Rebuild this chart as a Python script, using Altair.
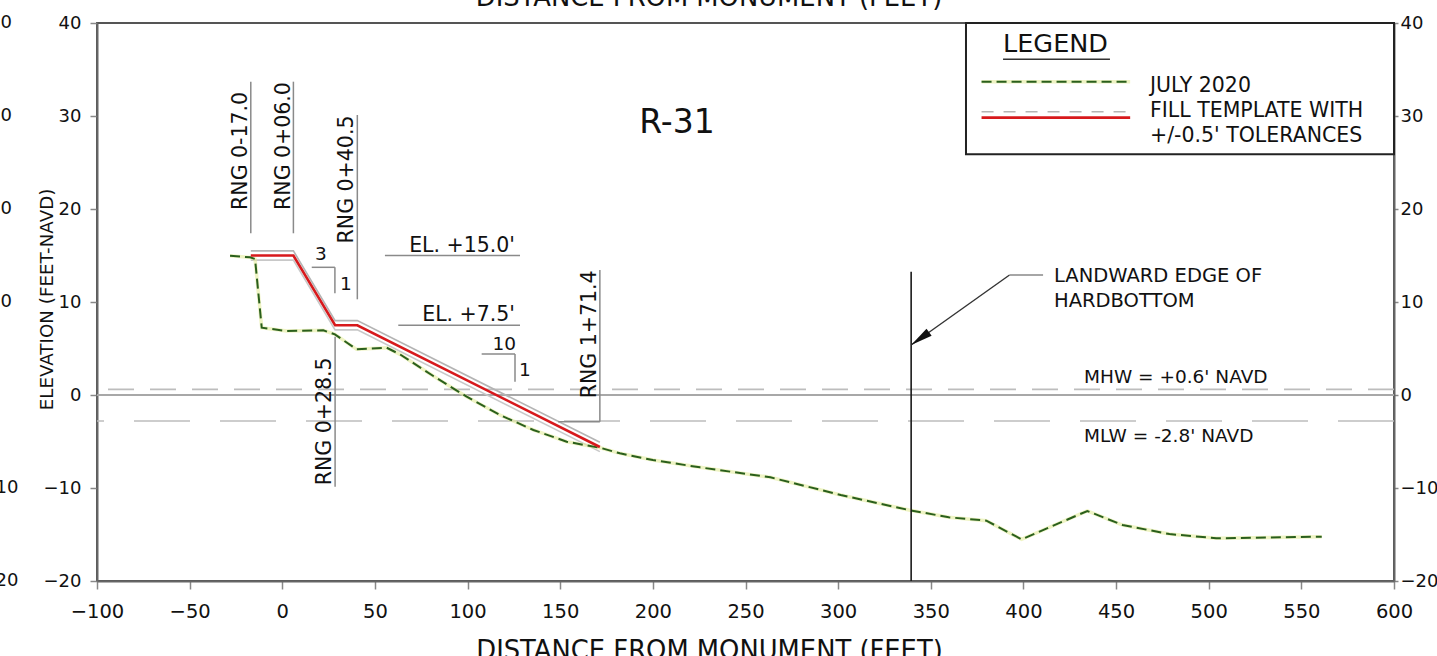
import altair as alt
import pandas as pd

FONT = "DejaVu Sans"
INK = "#111111"

# ---------------- data ----------------
x_ticks = [-100, -50, 0, 50, 100, 150, 200, 250, 300, 350, 400, 450, 500, 550, 600]
y_ticks = [-20, -10, 0, 10, 20, 30, 40]

# JULY 2020 survey profile
profile_x = [-28.2, -17.4, -14.7, -11.1, 2.4, 22.1, 28.4, 40.1, 56.3, 63.5, 81.5, 99.5,
             117.5, 135.5, 153.5, 172.0, 182.2, 200.0, 225.4, 263.4, 301.4, 338.2, 359.7,
             380.0, 399.0, 434.5, 453.5, 478.8, 504.1, 561.0]
profile_y = [14.98, 14.80, 14.62, 7.24, 6.88, 6.95, 6.52, 4.91, 5.09, 4.37, 2.04, -0.18,
             -2.15, -3.76, -5.02, -5.70, -6.27, -6.99, -7.78, -8.85, -10.75, -12.37, -13.15,
             -13.51, -15.52, -12.47, -13.98, -14.95, -15.41, -15.23]

# Fill template
template_x = [-17.0, 6.0, 28.5, 40.5, 171.4]
template_y = [15.0, 15.0, 7.5, 7.5, -5.59]
tolerance = 0.5

mhw_elev = 0.6
mlw_elev = -2.8

# Range (station) markers
rng_labels = ["RNG 0-17.0", "RNG 0+06.0", "RNG 0+40.5", "RNG 0+28.5", "RNG 1+71.4"]
rng_x = [-17.0, 6.0, 40.5, 28.5, 171.4]
rng_top = [33.69, 33.69, 30.11, 6.27, 13.44]
rng_bottom = [17.39, 17.39, 10.29, -9.86, -2.87]
rng_label_y = [19.9, 19.9, 16.3, -9.7, -0.35]
rng_foot_x = [148.9]
rng_foot_end = [171.4]
rng_foot_y = [-2.87]

# Elevation call-outs
el_labels = ["EL. +15.0'", "EL. +7.5'"]
el_elev = [15.0, 7.5]
el_start = [55.4, 62.6]
el_end = [128.3, 128.3]
el_label_x = [125.6, 125.6]

# Slope triangles (3:1 and 10:1)
slope_run_labels = ["3", "10"]
slope_rise_labels = ["1", "1"]
slope_start_x = [15.9, 107.6]
slope_corner_x = [28.4, 125.6]
slope_corner_y = [13.73, 4.41]
slope_end_y = [10.94, 1.43]
slope_run_label_x = [20.8, 119.8]
slope_run_label_y = [14.52, 4.84]
slope_rise_label_x = [34.3, 131.0]
slope_rise_label_y = [11.29, 2.04]

# Landward edge of hardbottom
hardbottom_x = [339.4]
hardbottom_top = [13.26]
arrow_tail_x = [392.5]
arrow_tail_y = [12.9]
arrow_tip_x = [339.4]
arrow_tip_y = [5.38]
leader_end_x = [410.6]
hardbottom_text = ["LANDWARD EDGE OF", "HARDBOTTOM"]
hardbottom_text_x = [416.5, 416.5]
hardbottom_text_y = [12.18, 9.5]

tide_text = ["MHW = +0.6' NAVD", "MLW = -2.8' NAVD"]
tide_text_x = [432.7, 432.7]
tide_text_y = [1.26, -5.0]

profile_name = ["R-31"]
profile_name_x = [213.0]
profile_name_y = [28.17]

# Legend
legend_box_x = [369.0]
legend_box_x2 = [600.0]
legend_box_y = [25.9]
legend_box_y2 = [40.0]
legend_heading = ["LEGEND"]
legend_heading_x = [389.0]
legend_heading_y = [36.91]
legend_underline_x = [389.0]
legend_underline_x2 = [446.7]
legend_underline_y = [36.1]
legend_items = ["JULY 2020", "FILL TEMPLATE WITH", "+/-0.5' TOLERANCES"]
legend_text_x = [468.3, 468.3, 468.3]
legend_text_y = [32.61, 29.92, 27.24]
legend_line_x = [377.4]
legend_line_x2 = [457.6]
legend_profile_y = [33.69]
legend_template_y = [29.82]
legend_tol_y = [30.46]

x_title = "DISTANCE FROM MONUMENT (FEET)"
y_title = "ELEVATION (FEET-NAVD)"

# ---------------- scales / helpers ----------------
XS = alt.Scale(domain=[-100, 600], nice=False, zero=False)
YS = alt.Scale(domain=[-20, 40], nice=False, zero=False)


def X(f="x"):
    return alt.X(f"{f}:Q", scale=XS, axis=None)


def Y(f="y"):
    return alt.Y(f"{f}:Q", scale=YS, axis=None)


x_axis = alt.Axis(orient="bottom", values=x_ticks, title=x_title, grid=False,
                  labelFont=FONT, labelFontSize=19.5, labelColor=INK, labelPadding=13,
                  labelFlush=False, labelOverlap=False,
                  tickSize=8, tickColor="#888888", tickWidth=1.5,
                  domainColor="#666666", domainWidth=2,
                  titleFont=FONT, titleFontSize=25.8, titleFontWeight="normal",
                  titleColor=INK, titleX=612, titleY=77, titleAlign="center",
                  titleBaseline="alphabetic")

y_left = alt.Axis(orient="left", values=y_ticks, title=y_title, grid=False,
                  labelFont=FONT, labelFontSize=18, labelColor=INK, labelPadding=9,
                  labelOverlap=False,
                  tickSize=7, tickColor="#888888", tickWidth=1.5,
                  domainColor="#666666", domainWidth=2,
                  titleFont=FONT, titleFontSize=18.3, titleFontWeight="normal",
                  titleColor=INK, titleX=-45, titleY=276, titleAngle=270,
                  titleAlign="center", titleBaseline="alphabetic")

y_right = alt.Axis(orient="right", values=y_ticks, title=None, grid=False,
                   labelFont=FONT, labelFontSize=18, labelColor=INK, labelPadding=2,
                   labelAlign="left", labelOverlap=False,
                   tickSize=4, tickColor="#888888", tickWidth=1.5,
                   domainColor="#666666", domainWidth=2)

# ---------------- tables ----------------
prof = pd.DataFrame({"x": profile_x, "y": profile_y})
tmpl = pd.DataFrame({"x": template_x, "y": template_y})
levels = pd.DataFrame({"y": [0.0]})
mhw = pd.DataFrame({"y": [mhw_elev]})
mlw = pd.DataFrame({"y": [mlw_elev]})
rng = pd.DataFrame({"x": rng_x, "top": rng_top, "bottom": rng_bottom,
                    "label": rng_labels, "ly": rng_label_y})
rng_foot = pd.DataFrame({"x": rng_foot_x, "x2": rng_foot_end, "y": rng_foot_y})
el = pd.DataFrame({"x": el_start, "x2": el_end, "y": el_elev, "lx": el_label_x,
                   "label": el_labels})
slope = pd.DataFrame({"sx": slope_start_x, "cx": slope_corner_x, "cy": slope_corner_y,
                      "ey": slope_end_y, "run": slope_run_labels, "rise": slope_rise_labels,
                      "rx": slope_run_label_x, "ry": slope_run_label_y,
                      "qx": slope_rise_label_x, "qy": slope_rise_label_y})
hb = pd.DataFrame({"x": hardbottom_x, "top": hardbottom_top, "bot": [y_ticks[0]]})
arrow = pd.DataFrame({"x": arrow_tail_x, "y": arrow_tail_y, "x2": arrow_tip_x,
                      "y2": arrow_tip_y, "lx": leader_end_x})
hb_txt = pd.DataFrame({"x": hardbottom_text_x, "y": hardbottom_text_y, "t": hardbottom_text})
tide_txt = pd.DataFrame({"x": tide_text_x, "y": tide_text_y, "t": tide_text})
name_txt = pd.DataFrame({"x": profile_name_x, "y": profile_name_y, "t": profile_name})
lg_box = pd.DataFrame({"x": legend_box_x, "x2": legend_box_x2, "y": legend_box_y,
                       "y2": legend_box_y2})
lg_head = pd.DataFrame({"x": legend_heading_x, "y": legend_heading_y, "t": legend_heading})
lg_ul = pd.DataFrame({"x": legend_underline_x, "x2": legend_underline_x2,
                      "y": legend_underline_y})
lg_txt = pd.DataFrame({"x": legend_text_x, "y": legend_text_y, "t": legend_items})
lg_prof = pd.DataFrame({"x": legend_line_x, "x2": legend_line_x2, "y": legend_profile_y})
lg_tmpl = pd.DataFrame({"x": legend_line_x, "x2": legend_line_x2, "y": legend_template_y})
lg_tol = pd.DataFrame({"x": legend_line_x, "x2": legend_line_x2, "y": legend_tol_y})
edge_labels = pd.DataFrame({"y": y_ticks, "t": [str(v) for v in y_ticks]})
top_title = pd.DataFrame({"t": [x_title]})

txt = dict(font=FONT, color=INK)
GRAY = "#8a8a8a"

layers = []

# water levels
layers.append(alt.Chart(levels).mark_rule(color="#a8a8a8", strokeWidth=2).encode(y=Y()))
layers.append(alt.Chart(mhw).mark_rule(color="#bdbdbd", strokeWidth=1.6,
                                       strokeDash=[26, 16]).encode(y=Y()))
layers.append(alt.Chart(mlw).mark_rule(color="#bdbdbd", strokeWidth=1.6,
                                       strokeDash=[56, 30]).encode(y=Y()))

# tolerance band lines
layers.append(alt.Chart(tmpl).transform_calculate(yu=f"datum.y + {tolerance}")
              .mark_line(color="#b4b4b4", strokeWidth=1.6).encode(x=X(), y=Y("yu")))
layers.append(alt.Chart(tmpl).transform_calculate(yl=f"datum.y - {tolerance}")
              .mark_line(color="#c8c8c8", strokeWidth=1.6).encode(x=X(), y=Y("yl")))

# profile halo (carries right axis)
layers.append(alt.Chart(prof).mark_line(color="#e4ec9c", strokeWidth=3.5, opacity=0.6)
              .encode(x=X(), y=alt.Y("y:Q", scale=YS, axis=y_right)))
# profile (carries bottom + left axis)
layers.append(alt.Chart(prof).mark_line(color="#2a5f1c", strokeWidth=2, strokeDash=[10, 5])
              .encode(x=alt.X("x:Q", scale=XS, axis=x_axis),
                      y=alt.Y("y:Q", scale=YS, axis=y_left)))
# template
layers.append(alt.Chart(tmpl).mark_line(color="#d7191c", strokeWidth=2.6)
              .encode(x=X(), y=Y()))

# range lines + labels
layers.append(alt.Chart(rng).mark_rule(color=GRAY, strokeWidth=1.5)
              .encode(x=X(), y=Y("top"), y2=alt.Y2("bottom:Q")))
layers.append(alt.Chart(rng_foot).mark_rule(color=GRAY, strokeWidth=1.5)
              .encode(x=X(), x2=alt.X2("x2:Q"), y=Y()))
layers.append(alt.Chart(rng).transform_calculate(tx="datum.x - 2.1")
              .mark_text(angle=270, align="left", baseline="alphabetic", fontSize=20.5, **txt)
              .encode(x=X("tx"), y=Y("ly"), text="label:N"))

# elevation call-outs
layers.append(alt.Chart(el).mark_rule(color=GRAY, strokeWidth=1.5)
              .encode(x=X(), x2=alt.X2("x2:Q"), y=Y()))
layers.append(alt.Chart(el).mark_text(align="right", baseline="alphabetic", fontSize=20.5,
                                      dy=-4, **txt)
              .encode(x=X("lx"), y=Y(), text="label:N"))

# slope triangles
layers.append(alt.Chart(slope).mark_rule(color=GRAY, strokeWidth=1.5)
              .encode(x=X("sx"), x2=alt.X2("cx:Q"), y=Y("cy")))
layers.append(alt.Chart(slope).mark_rule(color=GRAY, strokeWidth=1.5)
              .encode(x=X("cx"), y=Y("cy"), y2=alt.Y2("ey:Q")))
layers.append(alt.Chart(slope).mark_text(align="center", baseline="alphabetic",
                                         fontSize=18.5, **txt)
              .encode(x=X("rx"), y=Y("ry"), text="run:N"))
layers.append(alt.Chart(slope).mark_text(align="center", baseline="alphabetic",
                                         fontSize=18.5, **txt)
              .encode(x=X("qx"), y=Y("qy"), text="rise:N"))

# hardbottom
layers.append(alt.Chart(hb).mark_rule(color="#1a1a1a", strokeWidth=1.6)
              .encode(x=X(), y=Y("top"), y2=alt.Y2("bot:Q")))
layers.append(alt.Chart(arrow).mark_rule(color="#333333", strokeWidth=1.4)
              .encode(x=X(), x2=alt.X2("x2:Q"), y=Y(), y2=alt.Y2("y2:Q")))
layers.append(alt.Chart(arrow).mark_rule(color="#888888", strokeWidth=1.4)
              .encode(x=X(), x2=alt.X2("lx:Q"), y=Y()))
layers.append(alt.Chart(arrow).mark_point(shape="M0,0L-0.4,2L0.4,2Z", size=484,
                                          angle=234.6, filled=True, color="#111111",
                                          opacity=1, strokeWidth=0)
              .encode(x=X("x2"), y=Y("y2")))
layers.append(alt.Chart(hb_txt).mark_text(align="left", baseline="alphabetic",
                                          fontSize=19.5, **txt)
              .encode(x=X(), y=Y(), text="t:N"))
layers.append(alt.Chart(tide_txt).mark_text(align="left", baseline="alphabetic",
                                            fontSize=18.5, **txt)
              .encode(x=X(), y=Y(), text="t:N"))
layers.append(alt.Chart(name_txt).mark_text(align="center", baseline="alphabetic",
                                            fontSize=33, **txt)
              .encode(x=X(), y=Y(), text="t:N"))

# legend
layers.append(alt.Chart(lg_box).mark_rect(fillOpacity=0, stroke="#222222", strokeWidth=2)
              .encode(x=X(), x2=alt.X2("x2:Q"), y=Y(), y2=alt.Y2("y2:Q")))
layers.append(alt.Chart(lg_head).mark_text(align="left", baseline="alphabetic",
                                           fontSize=25.5, **txt)
              .encode(x=X(), y=Y(), text="t:N"))
layers.append(alt.Chart(lg_ul).mark_rule(color="#333333", strokeWidth=1.5)
              .encode(x=X(), x2=alt.X2("x2:Q"), y=Y()))
layers.append(alt.Chart(lg_txt).mark_text(align="left", baseline="alphabetic",
                                          fontSize=20.5, **txt)
              .encode(x=X(), y=Y(), text="t:N"))
layers.append(alt.Chart(lg_prof).mark_rule(color="#e4ec9c", strokeWidth=3.5, opacity=0.6)
              .encode(x=X(), x2=alt.X2("x2:Q"), y=Y()))
layers.append(alt.Chart(lg_prof).mark_rule(color="#2a5f1c", strokeWidth=2, strokeDash=[10, 5])
              .encode(x=X(), x2=alt.X2("x2:Q"), y=Y()))
layers.append(alt.Chart(lg_tol).mark_rule(color="#b4b4b4", strokeWidth=1.5,
                                          strokeDash=[12, 10])
              .encode(x=X(), x2=alt.X2("x2:Q"), y=Y()))
layers.append(alt.Chart(lg_tmpl).mark_rule(color="#d7191c", strokeWidth=2.6)
              .encode(x=X(), x2=alt.X2("x2:Q"), y=Y()))

# fragments of neighbouring sheet (cropped at page edges, as in the reference)
layers.append(alt.Chart(edge_labels).mark_text(align="left", baseline="middle",
                                               fontSize=18, **txt)
              .encode(x=alt.value(-108), y=Y(), text="t:N"))
layers.append(alt.Chart(top_title).mark_text(align="center", baseline="alphabetic",
                                             fontSize=25.8, **txt)
              .encode(x=alt.value(612), y=alt.value(-17), text="t:N"))

chart = (alt.layer(*layers)
         .resolve_axis(x="independent", y="independent")
         .properties(width=1297, height=558,
                     autosize=alt.AutoSizeParams(type="none"),
                     padding={"left": 97, "top": 23, "right": 43, "bottom": 75},
                     background="white")
         .configure_view(stroke="#555555", strokeWidth=2))

chart.save("out.html", embed_options={"renderer": "svg", "actions": False})
